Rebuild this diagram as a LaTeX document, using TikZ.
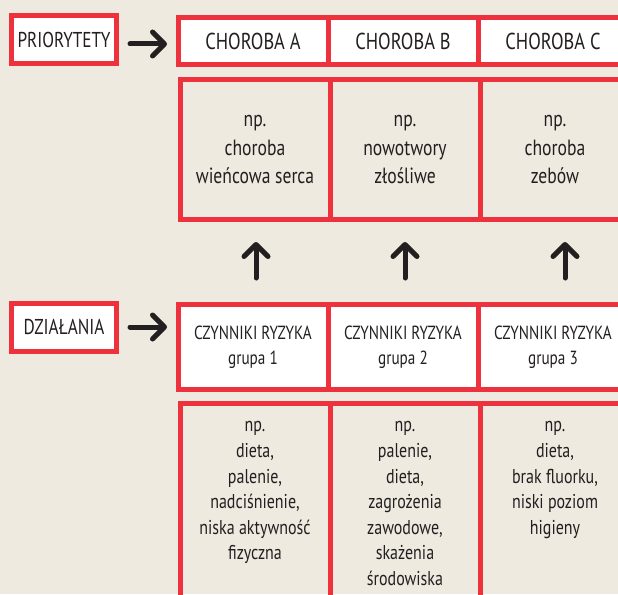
\documentclass[tikz,border=0pt]{standalone}
\usepackage{fontspec}
\setmainfont{PT Sans}[FakeStretch=0.8]
\usepackage{xcolor}
\usepackage{tikz}
\usetikzlibrary{arrows.meta,positioning}
\definecolor{TloBez}{RGB}{238,234,224}
\definecolor{CzerwonaRamka}{RGB}{237,50,62}
\definecolor{CiemnyTekst}{RGB}{35,31,32}

\begin{document}
\begin{tikzpicture}[x=1pt,y=-1pt,
  ramka/.style={draw=CzerwonaRamka,line width=5pt,outer sep=0pt,inner sep=0pt,align=center,text=CiemnyTekst},
  etykieta/.style={ramka,fill=white,minimum width=105pt,minimum height=48pt,font=\fontsize{21.5}{25}\selectfont},
  naglowek/.style={ramka,fill=white,minimum width=150pt,minimum height=47pt,font=\fontsize{23}{27}\selectfont},
  przyklad/.style={ramka,minimum width=150pt,minimum height=140pt,font=\fontsize{22}{28.5}\selectfont},
  czynnik/.style={ramka,fill=white,minimum width=150pt,minimum height=85pt,font=\fontsize{19}{25}\selectfont},
  kolumna/.style={ramka,minimum width=150pt,minimum height=230pt},
  opis/.style={inner sep=0pt,align=center,text=CiemnyTekst,font=\fontsize{20}{25.6}\selectfont},
  strzalka/.style={draw=CiemnyTekst,line width=5pt,line cap=round,-{Straight Barb[length=12pt,width=24pt,round]}}]
  \fill[TloBez] (0,0) rectangle (618,594);
  \useasboundingbox (0,0) rectangle (618,594);
  % priorytety
  \node[etykieta] (prio) at (64,40) {PRIORYTETY};
  \node[naglowek] (chorA) at (253,41) {CHOROBA A};
  \node[naglowek,right=0pt of chorA] (chorB) {CHOROBA B};
  \node[naglowek,right=0pt of chorB] (chorC) {CHOROBA C};
  \node[przyklad] (przA) at (255,149.5) {np.\\choroba\\wieńcowa serca};
  \node[przyklad,right=0pt of przA] (przB) {np.\\nowotwory\\złośliwe};
  \node[przyklad,right=0pt of przB] (przC) {np.\\choroba\\zebów};
  % dzialania
  \node[etykieta] (dzial) at (64,327) {DZIAŁANIA};
  \node[czynnik] (czynA) at (253,347) {CZYNNIKI RYZYKA\\grupa 1};
  \node[czynnik,right=0pt of czynA] (czynB) {CZYNNIKI RYZYKA\\grupa 2};
  \node[czynnik,right=0pt of czynB] (czynC) {CZYNNIKI RYZYKA\\grupa 3};
  \node[kolumna,anchor=north] (kolA) at (255,403.5) {};
  \node[kolumna,right=0pt of kolA] (kolB) {};
  \node[kolumna,right=0pt of kolB] (kolC) {};
  \node[opis,below=18pt of kolA.north] (opisA) {np.\\dieta,\\palenie,\\nadciśnienie,\\niska aktywność\\fizyczna};
  \node[opis,below=18pt of kolB.north] (opisB) {np.\\palenie,\\dieta,\\zagrożenia\\zawodowe,\\skażenia\\środowiska};
  \node[opis,below=18pt of kolC.north] (opisC) {np.\\dieta,\\brak fluorku,\\niski poziom\\higieny};
  % strzalki
  \draw[strzalka,shorten <=13.5pt,shorten >=11pt] ([yshift=-4pt]prio.east) -- ([yshift=-4pt]prio.east -| chorA.west);
  \draw[strzalka,shorten <=13.5pt,shorten >=11pt] (dzial.east) -- (dzial.east -| czynA.west);
  \draw[strzalka,shorten <=26.5pt,shorten >=22.5pt] ([xshift=3pt]czynA.north) -- ([xshift=3pt]czynA.north |- przA.south);
  \draw[strzalka,shorten <=26.5pt,shorten >=22.5pt] ([xshift=2pt]czynB.north) -- ([xshift=2pt]czynB.north |- przB.south);
  \draw[strzalka,shorten <=26.5pt,shorten >=22.5pt] ([xshift=12pt]czynC.north) -- ([xshift=12pt]czynC.north |- przC.south);
\end{tikzpicture}
\end{document}
